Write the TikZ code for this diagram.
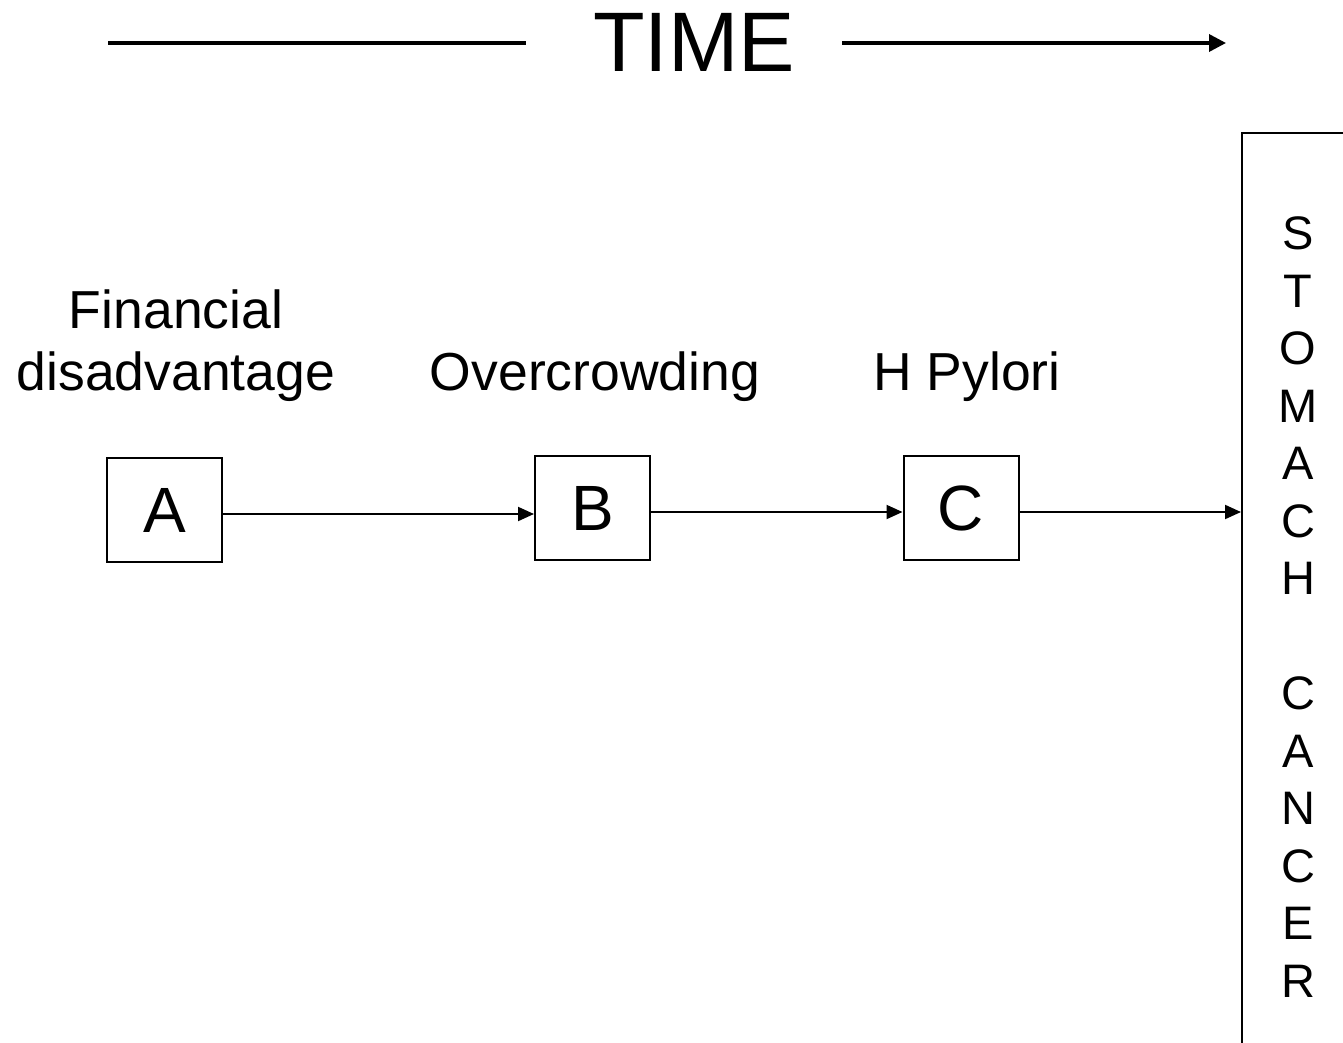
\documentclass[tikz,border=0pt]{standalone}
\usepackage{fontspec}
\setmainfont{Liberation Sans}
\usetikzlibrary{arrows.meta}
\tikzset{
	letterbox/.style={draw,line width=2pt,minimum width=115pt,minimum height=104pt,inner sep=0pt,font=\fontsize{64}{70}\selectfont},
	label/.style={align=center,anchor=base,font=\fontsize{53.5}{62}\selectfont},
	link/.style={line width=2pt,-{Triangle[length=16pt,width=14pt]}}
}
\begin{document}
\begin{tikzpicture}[x=1pt,y=-1pt]
			\useasboundingbox (0,0) rectangle (1343,1043);
			\clip (0,0) rectangle (1343,1043);
			% time line
			\node[anchor=base,font=\fontsize{84.5}{90}\selectfont] (time) at (694,72) {TIME};
			\coordinate (tl) at (108,43); \coordinate (tm) at (526,43);
			\coordinate (tn) at (842,43); \coordinate (tr) at (1226,43);
			\draw[line width=3.5pt] (tl)--(tm);
			\draw[line width=3.5pt,-{Triangle[length=17pt,width=17pt]}] (tn)--(tr);
			% factors
			\node[letterbox] (A) at (164.5,510) {A};
			\node[letterbox] (B) at (592.5,508) {B};
			\node[letterbox] (C) at (961,508) {C};
			\node[label] (fin) at (176,390) {Financial\\disadvantage};
			\node[label] (over) at (595,390) {Overcrowding};
			\node[label] (hp) at (967,390) {H Pylori};
			\node[draw,line width=2pt,minimum width=112pt,minimum height=948pt,inner sep=0pt,align=center,
				font=\fontsize{47}{57.5}\selectfont] (cancer) at (1298,607)
				{S\\T\\O\\M\\A\\C\\H\\ \\C\\A\\N\\C\\E\\R};
			\draw[link] ([yshift=-4pt]A.east)--([yshift=-4pt]A.east -| B.west);
			\draw[link] ([yshift=-4pt]B.east)--([yshift=-4pt]B.east -| C.west);
			\draw[link] ([yshift=-4pt]C.east)--([yshift=-4pt]C.east -| cancer.west);
		\end{tikzpicture}
\end{document}
